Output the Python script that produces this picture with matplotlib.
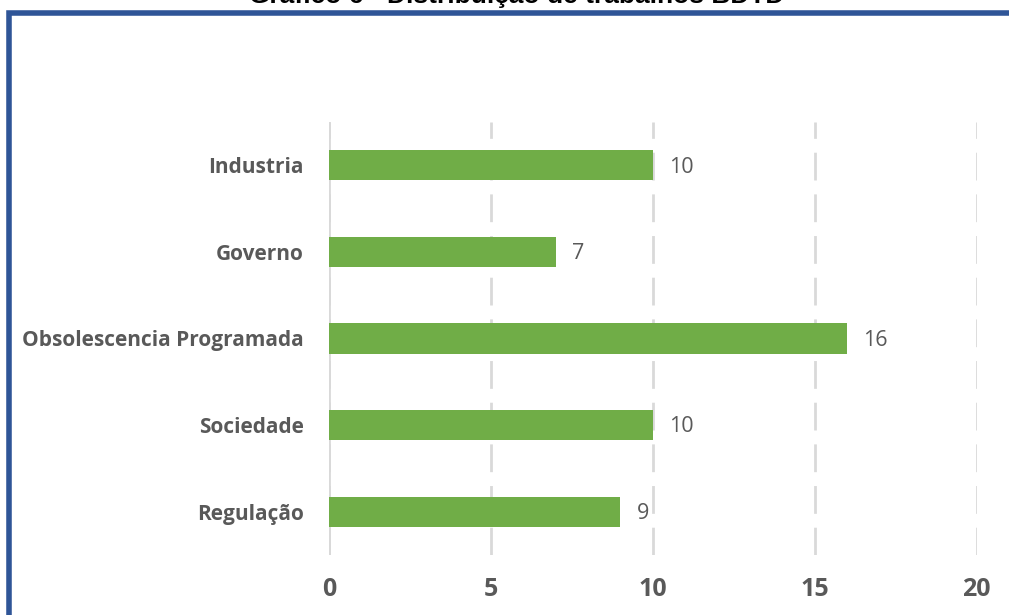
import matplotlib

matplotlib.use("Agg")

import matplotlib.pyplot as plt  # noqa: E402
from matplotlib.patches import Rectangle  # noqa: E402

# categorias de cima para baixo
categorias = ["Industria", "Governo", "Obsolescencia Programada", "Sociedade", "Regulação"]
trabalhos = [10, 7, 16, 10, 9]
ticks_x = [0, 5, 10, 15, 20]

VERDE = "#70AD47"
CINZA = "#595959"
GRADE = "#D9D9D9"
AZUL = "#2F5597"

fig = plt.figure(figsize=(10.09, 6.15), dpi=100)
ax = fig.add_axes([0.326, 0.0976, 0.642, 0.704])

pos = list(range(len(categorias)))
ax.barh(pos, trabalhos, height=0.35, color=VERDE, zorder=3)
ax.set_ylim(len(categorias) - 0.5, -0.5)
ax.set_xlim(ticks_x[0], ticks_x[-1])

for y, v in zip(pos, trabalhos):
    ax.text(v + 0.5, y + 0.02, str(v), va="center", ha="left",
            fontsize=15.5, color=CINZA, family="Open Sans")

# grade vertical tracejada
ax.set_xticks(ticks_x)
ax.xaxis.grid(True, color=GRADE, linewidth=2, linestyle=(0, (10, 5)), zorder=0)
ax.axvline(0, color=GRADE, linewidth=2, zorder=1)

for s in ax.spines.values():
    s.set_visible(False)
ax.tick_params(length=0)
ax.set_yticks(pos)
ax.set_yticklabels(categorias, fontsize=15, fontweight="bold",
                   color=CINZA, family="Open Sans")
ax.set_xticklabels([str(t) for t in ticks_x], fontsize=18, fontweight="bold",
                   color=CINZA, family="Open Sans")
ax.tick_params(axis="y", pad=18)
ax.tick_params(axis="x", pad=16)

# moldura azul (sai pela direita e por baixo)
fig.patches.append(Rectangle((9 / 1009, -0.1), 1.2, 1.1 - 13 / 615,
                             transform=fig.transFigure, fill=False,
                             edgecolor=AZUL, linewidth=4, zorder=5))

fig.text(0.512, 1 - 3 / 615, "Gráfico 6 - Distribuição de trabalhos BDTD",
         ha="center", va="baseline", fontsize=19, fontweight="bold",
         family="Liberation Sans", color="black")

fig.savefig("out.png", dpi=100)
